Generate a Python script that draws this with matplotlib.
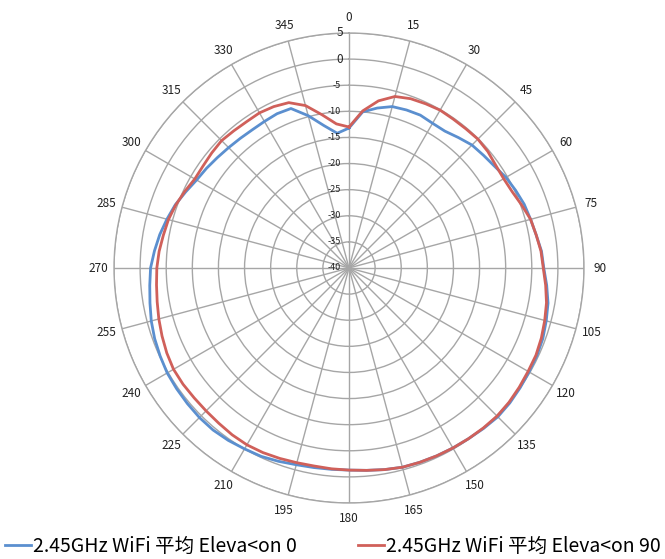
import numpy as np
import matplotlib
matplotlib.use("Agg")
import matplotlib.pyplot as plt
from matplotlib.lines import Line2D

plt.rcParams['font.family'] = ['Noto Sans CJK SC', 'DejaVu Sans']

# angles in degrees (5 degree steps)
angles = list(range(0, 360, 5))

# 2.45GHz WiFi average, elevation 0 (dB)
elev0 = [-13.2, -10.0, -8.9, -8.0, -7.8, -7.7, -8.0, -8.0, -7.4, -6.7,
         -6.4, -6.0, -5.3, -4.8, -4.3, -4.0, -3.6, -3.0, -2.7, -2.0,
         -1.3, -0.9, -0.5, -0.3, -0.2, 0.0, 0.2, 0.3, 0.1, -0.1,
         -0.2, -0.3, -0.4, -0.5, -0.8, -1.1, -1.3, -1.3, -1.2, -1.0,
         -0.6, -0.2, 0.0, 0.3, 0.5, 0.5, 0.4, 0.3, 0.2, -0.1,
         -0.4, -0.8, -1.3, -1.7, -2.0, -2.6, -3.2, -3.9, -4.6, -5.5,
         -6.3, -6.7, -7.1, -7.4, -7.6, -7.7, -7.6, -7.4, -7.5, -9.8,
         -12.3, -14.1]

# 2.45GHz WiFi average, elevation 90 (dB)
elev90 = [-13.0, -9.8, -7.5, -6.0, -5.5, -5.3, -5.1, -5.2, -5.2, -5.1,
          -5.3, -5.7, -5.8, -5.5, -4.8, -4.0, -3.6, -3.1, -2.8, -2.2,
          -1.6, -1.2, -0.8, -0.5, -0.4, -0.2, 0.0, 0.1, 0.0, -0.1,
          -0.2, -0.3, -0.4, -0.5, -0.8, -1.1, -1.3, -1.4, -1.5, -1.4,
          -1.2, -1.0, -0.9, -1.0, -1.2, -1.3, -1.3, -1.2, -1.2, -1.5,
          -1.9, -2.3, -2.7, -3.0, -3.2, -3.5, -3.9, -4.2, -4.7, -5.3,
          -5.9, -5.9, -5.7, -5.5, -5.7, -5.8, -5.7, -5.9, -6.3, -7.8,
          -10.2, -12.3]

theta_ticks = list(range(0, 360, 15))
r_ticks = list(range(-40, 6, 5))

labels = ["2.45GHz WiFi 平均 Eleva<on 0", "2.45GHz WiFi 平均 Eleva<on 90"]
colors = ["#5b8fcf", "#d0605a"]
grid_col = "#a6a6a6"

fig = plt.figure(figsize=(6.65, 5.59), dpi=100)
ax = fig.add_axes([114 / 665, 56 / 559, 470 / 665, 470 / 559], projection='polar')
ax.set_theta_zero_location('N')
ax.set_theta_direction(-1)

for vals, c in zip([elev0, elev90], colors):
    th = np.deg2rad(angles + [angles[0]])
    ax.plot(th, vals + [vals[0]], color=c, lw=2.0, zorder=3)

ax.set_ylim(-40, 5)
ax.set_yticks(r_ticks)
ax.set_yticklabels([])
ax.set_xticks(np.deg2rad(theta_ticks))
ax.set_xticklabels([str(t) for t in theta_ticks], fontsize=8.5, color='#222222')
ax.tick_params(axis='x', pad=1)
ax.grid(True, color=grid_col, lw=1.0)
ax.spines['polar'].set_color(grid_col)
ax.spines['polar'].set_linewidth(1.0)

for r in r_ticks:
    big = r >= 0
    ax.annotate(str(r), xy=(0, r), xytext=(-4 if big else -6, 0),
                textcoords='offset points', ha='right', va='center',
                fontsize=8.5 if big else 6.5, color='#222222', zorder=4)

handles = [Line2D([], [], color=c, lw=2.0) for c in colors]
fig.legend(handles, labels, loc='lower left', bbox_to_anchor=(5 / 665, 0.004),
           borderaxespad=0.0, ncol=2, frameon=False, fontsize=14,
           handlelength=1.35, handletextpad=0.08, columnspacing=3.15,
           borderpad=0.0)

fig.savefig('out.png', dpi=100)
